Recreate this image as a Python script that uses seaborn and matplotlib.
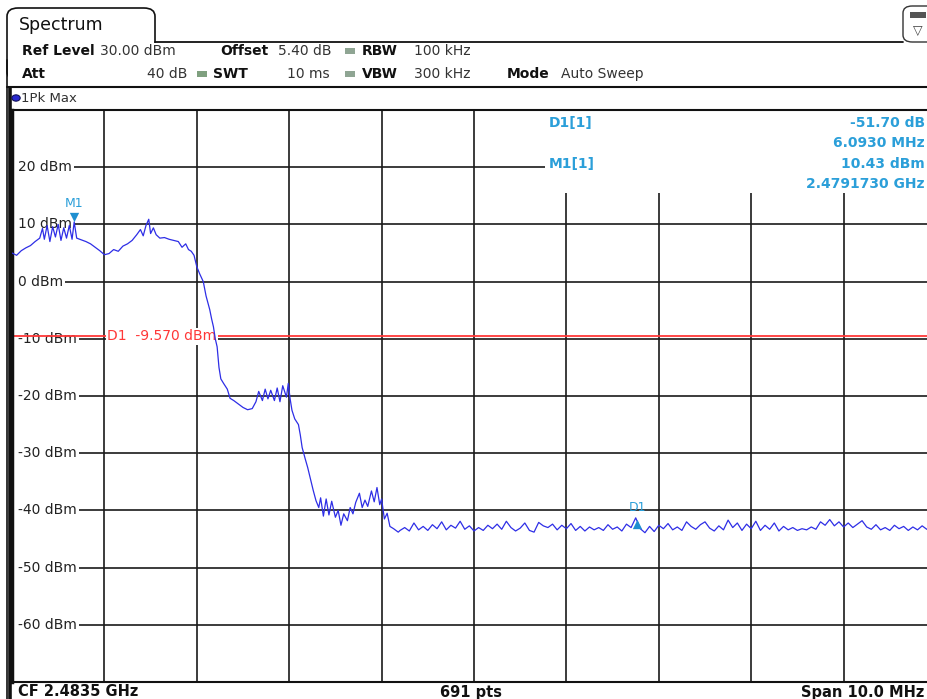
import numpy as np
import pandas as pd
import matplotlib
matplotlib.use("Agg")
import matplotlib.pyplot as plt
import seaborn as sns
from matplotlib.patches import Rectangle, FancyBboxPatch
from matplotlib.lines import Line2D
from matplotlib.transforms import offset_copy

W, H = 928, 699

# trace: MHz above the start frequency (2.4785 GHz), level in dBm
band_offset_mhz = [
    0.00, 0.05, 0.10, 0.15, 0.20, 0.25, 0.30, 0.33, 0.35, 0.38,
    0.41, 0.44, 0.47, 0.50, 0.53, 0.56, 0.59, 0.62, 0.65, 0.673,
    0.70, 0.75, 0.80, 0.85, 0.90, 0.95, 1.00, 1.05, 1.10, 1.15,
    1.20, 1.25, 1.30, 1.35, 1.39, 1.42, 1.45, 1.48, 1.50, 1.53,
    1.56, 1.60, 1.65, 1.70, 1.75, 1.80, 1.84, 1.88, 1.91, 1.94,
    1.97, 2.00, 2.03, 2.07, 2.10, 2.14, 2.16, 2.18, 2.20, 2.22,
    2.24, 2.26, 2.29, 2.33, 2.36, 2.40, 2.45, 2.50, 2.55, 2.60,
    2.64, 2.67, 2.71, 2.74, 2.77, 2.80, 2.84, 2.87, 2.90, 2.93,
    2.97, 2.99, 3.01, 3.03, 3.06, 3.10, 3.12, 3.14, 3.17, 3.20,
    3.23, 3.26, 3.29, 3.32, 3.34, 3.37, 3.40, 3.43, 3.46, 3.50,
    3.53, 3.56, 3.59, 3.63, 3.66, 3.69, 3.72, 3.76, 3.79, 3.82,
    3.85, 3.89, 3.92, 3.95, 3.98, 4.00, 4.03, 4.06, 4.09, 4.13,
    4.18,
]
band_dbm = [
    5.0, 4.6, 5.4, 5.9, 6.3, 7.0, 7.6, 9.3, 7.4, 9.8,
    7.0, 9.6, 7.8, 10.0, 7.2, 9.4, 7.6, 9.8, 7.4, 10.43,
    7.6, 7.3, 7.0, 6.6, 6.0, 5.4, 4.7, 4.9, 5.6, 5.3,
    6.2, 6.6, 7.2, 8.2, 9.1, 8.0, 9.8, 10.9, 8.4, 9.4,
    8.2, 7.6, 7.7, 7.4, 7.2, 7.0, 6.0, 6.6, 5.6, 5.3,
    4.6, 2.6, 1.4, 0.0, -2.5, -4.9, -6.5, -7.9, -10.0, -11.4,
    -15.0, -17.0, -17.8, -18.8, -20.4, -20.8, -21.4, -22.0, -22.4, -22.2,
    -21.0, -19.2, -20.8, -18.8, -20.5, -19.0, -20.8, -18.6, -21.0, -18.2,
    -20.2, -17.8, -20.5, -22.5, -24.0, -25.0, -26.8, -29.0, -30.8, -32.5,
    -34.5, -36.5, -38.3, -39.5, -37.8, -41.0, -38.0, -40.8, -38.4, -41.2,
    -40.0, -42.6, -40.6, -41.8, -39.5, -40.6, -38.6, -37.0, -39.5, -38.2,
    -39.3, -36.6, -38.5, -36.0, -39.0, -38.0, -41.5, -40.5, -42.8, -43.2,
    -43.8,
]
# noise floor, every 0.05 MHz from 4.20 to 10.00 MHz above start
floor_dbm = [
    -43.5, -43.0, -43.6, -42.2, -43.4, -42.8, -43.5, -42.5, -43.2, -42.0,
    -43.4, -42.6, -43.1, -41.9, -43.3, -42.7, -43.6, -43.0, -43.5, -42.6,
    -43.2, -42.4, -43.3, -41.9, -43.0, -43.6, -43.1, -42.2, -43.5, -43.8,
    -42.1, -42.7, -43.0, -42.4, -43.4, -42.6, -43.2, -42.3, -43.5, -42.8,
    -43.6, -42.9, -43.4, -43.0, -43.5, -42.5, -43.3, -42.9, -43.6, -42.4,
    -43.0, -41.3, -43.2, -43.9, -42.8, -43.7, -42.6, -43.2, -42.3, -43.4,
    -42.9, -43.5, -42.0, -42.8, -43.3, -42.5, -42.0, -43.1, -43.6, -42.7,
    -43.4, -41.7, -43.0, -42.2, -43.5, -42.4, -43.2, -41.9, -43.5, -42.6,
    -43.3, -42.2, -43.6, -42.8, -43.4, -43.0, -43.5, -43.2, -43.4, -42.9,
    -43.3, -42.0, -42.6, -41.6, -42.7, -42.0, -42.9, -42.2, -43.0, -42.4,
    -41.8, -42.9, -43.3, -42.5, -43.4, -43.0, -43.5, -42.6, -43.2, -42.8,
    -43.5, -42.9, -43.4, -42.7, -43.3, -42.8, -43.2,
]
floor_offset_mhz = np.round(4.20 + 0.05 * np.arange(len(floor_dbm)), 2)

span_mhz = 10.0
ref_level = 30.0
bottom_level = -70.0
y_levels = [20, 10, 0, -10, -20, -30, -40, -50, -60]
display_line_dbm = -9.57
m1_offset, m1_dbm = 0.673, 10.43
d1_offset, d1_dbm = 6.766, -41.27

trace = pd.DataFrame({
    "offset": list(band_offset_mhz) + list(floor_offset_mhz),
    "level": list(band_dbm) + list(floor_dbm),
})

sns.set_theme(style="white")
plt.rcParams["font.family"] = ["DejaVu Sans"]

BLUE_TXT = "#2b9fd9"
TRACE = "#2e2ee6"
RED = "#ff3838"

fig = plt.figure(figsize=(W / 100, H / 100), dpi=100)
fig.patch.set_facecolor("white")


def fx(x):
    return x / W


def fy(y):
    return 1 - y / H


def ftext(x, y, s, **kw):
    kw.setdefault("va", "center")
    kw.setdefault("fontsize", 10)
    kw.setdefault("color", "#111111")
    fig.text(fx(x), fy(y), s, **kw)


def fline(x0, y0, x1, y1, lw=1.0, color="#111111", z=5):
    fig.add_artist(Line2D([fx(x0), fx(x1)], [fy(y0), fy(y1)], lw=lw,
                          color=color, transform=fig.transFigure, zorder=z))


# header: tab, setting rows, icon
tab = FancyBboxPatch((fx(7), fy(80)), fx(155) - fx(7), fy(8) - fy(80),
                     boxstyle="round,pad=0,rounding_size=0.012",
                     transform=fig.transFigure, facecolor="white",
                     edgecolor="#111111", lw=1.2, zorder=1)
fig.add_artist(tab)
fig.add_artist(Rectangle((fx(8.5), fy(85)), fx(158) - fx(8.5), fy(43) - fy(85),
                         transform=fig.transFigure, facecolor="white",
                         edgecolor="none", zorder=2))
fline(155, 42, 903, 42, lw=1.3)
fline(7, 60, 7, 699, lw=1.2)
fline(7, 86.5, 928, 86.5, lw=1.5)
icon = FancyBboxPatch((fx(903), fy(42)), fx(945) - fx(903), fy(6) - fy(42),
                      boxstyle="round,pad=0,rounding_size=0.01",
                      transform=fig.transFigure, facecolor="white",
                      edgecolor="#333333", lw=1.0, zorder=3)
fig.add_artist(icon)
fig.add_artist(Rectangle((fx(910), fy(18)), fx(926) - fx(910), fy(12) - fy(18),
                         transform=fig.transFigure, facecolor="#555555",
                         edgecolor="none", zorder=4))
ftext(918, 31, "▽", fontsize=9, ha="center", color="#444444")

ftext(19, 25, "Spectrum", fontsize=12.5)
ftext(22, 51, "Ref Level", fontweight="bold")
ftext(100, 51, "30.00 dBm", color="#333333")
ftext(220, 51, "Offset", fontweight="bold")
ftext(278, 51, "5.40 dB", color="#333333")
ftext(362, 51, "RBW", fontweight="bold")
ftext(414, 51, "100 kHz", color="#333333")
ftext(22, 74, "Att", fontweight="bold")
ftext(187, 74, "40 dB", ha="right", color="#333333")
ftext(213, 74, "SWT", fontweight="bold")
ftext(330, 74, "10 ms", ha="right", color="#333333")
ftext(362, 74, "VBW", fontweight="bold")
ftext(414, 74, "300 kHz", color="#333333")
ftext(507, 74, "Mode", fontweight="bold")
ftext(561, 74, "Auto Sweep", color="#333333")
for sx, sy, sc in [(345, 51, "#8fa593"), (197, 74, "#7fa07f"), (345, 74, "#8fa593")]:
    fig.add_artist(Rectangle((fx(sx), fy(sy + 3)), fx(sx + 10) - fx(sx), fy(sy - 3) - fy(sy + 3),
                             transform=fig.transFigure, facecolor=sc,
                             edgecolor="none", zorder=4))

# trace panel
fline(10.5, 88, 10.5, 699, lw=2.6)
fig.add_artist(plt.Circle((fx(16), fy(98)), 0.0045, transform=fig.transFigure,
                          facecolor="#2a2ad0", edgecolor="#10105a", lw=0.8, zorder=6))
ftext(21, 98, "1Pk Max", fontsize=9.5, color="#333333")

ax = fig.add_axes([fx(12), fy(682), (936 - 12) / W, (682 - 110) / H])
ax.set_facecolor("white")
ax.set_xlim(0, span_mhz)
ax.set_ylim(bottom_level, ref_level)
ax.set_xticks(np.arange(0, span_mhz + 0.1, 1.0))
ax.set_yticks(np.arange(bottom_level, ref_level + 1, 10))
ax.set_axisbelow(True)
ax.grid(True, color="#1a1a1a", lw=1.2)
ax.tick_params(length=0, labelleft=False, labelbottom=False)
for side in ["top", "bottom"]:
    ax.spines[side].set_color("#111111")
    ax.spines[side].set_linewidth(1.5)
ax.spines["left"].set_color("#111111")
ax.spines["left"].set_linewidth(2.5)
ax.spines["right"].set_visible(False)

# marker info box hides the grid in the top right corner
ax.add_patch(Rectangle((5.77, 15.5), 5.0, 15.0, facecolor="white",
                       edgecolor="none", zorder=1))

# level labels sit inside the grid, on a white patch that starts at the frame
for lv in y_levels:
    ax.add_patch(Rectangle((0, lv - 1.2), 0.07, 2.4, facecolor="white",
                           edgecolor="none", zorder=1.8))
    ax.text(0.065, lv, f"{lv} dBm", fontsize=10, color="#222222", va="center",
            ha="left", zorder=2,
            bbox=dict(boxstyle="square,pad=0.15", facecolor="white", edgecolor="none"))

ax.axhline(display_line_dbm, color=RED, lw=1.3, zorder=2.5)
ax.text(1.03, display_line_dbm, "D1  -9.570 dBm", color=RED, fontsize=10,
        va="center", ha="left", zorder=2.6,
        bbox=dict(boxstyle="square,pad=0.1", facecolor="white", edgecolor="none"))

sns.lineplot(data=trace, x="offset", y="level", ax=ax, color=TRACE, lw=0.9,
             estimator=None, sort=False, zorder=3)
ax.set_xlabel("")
ax.set_ylabel("")

down = offset_copy(ax.transData, fig=fig, y=5, units="dots")
up = offset_copy(ax.transData, fig=fig, y=-6, units="dots")
ax.scatter([m1_offset], [m1_dbm], marker="v", s=45, color="#1e8fd0", transform=down,
           zorder=4, linewidths=0)
ax.text(m1_offset, m1_dbm, "M1", color=BLUE_TXT, fontsize=9, ha="center",
        va="bottom", transform=offset_copy(ax.transData, fig=fig, y=12, units="dots"))
ax.scatter([d1_offset], [d1_dbm], marker="^", s=45, color="#1e8fd0", transform=up,
           zorder=4, linewidths=0)
ax.text(d1_offset, d1_dbm, "D1", color=BLUE_TXT, fontsize=9, ha="center",
        va="bottom", transform=offset_copy(ax.transData, fig=fig, y=4, units="dots"))

# marker table (values kept inside the picture)
ftext(549, 123, "D1[1]", color=BLUE_TXT, fontweight="bold")
ftext(549, 164, "M1[1]", color=BLUE_TXT, fontweight="bold")
ftext(925, 123, f"{d1_dbm - m1_dbm:.2f} dB", color=BLUE_TXT, fontweight="bold", ha="right")
ftext(925, 143, f"{d1_offset - m1_offset:.4f} MHz", color=BLUE_TXT, fontweight="bold", ha="right")
ftext(925, 164, f"{m1_dbm:.2f} dBm", color=BLUE_TXT, fontweight="bold", ha="right")
ftext(925, 184, "2.4791730 GHz", color=BLUE_TXT, fontweight="bold", ha="right")

# footer
ftext(18, 692, "CF 2.4835 GHz", fontweight="bold", fontsize=10.5)
ftext(471, 692, "691 pts", fontweight="bold", fontsize=10.5, ha="center")
ftext(924, 692, "Span 10.0 MHz", fontweight="bold", fontsize=10.5, ha="right")

fig.savefig("out.png", dpi=100)
